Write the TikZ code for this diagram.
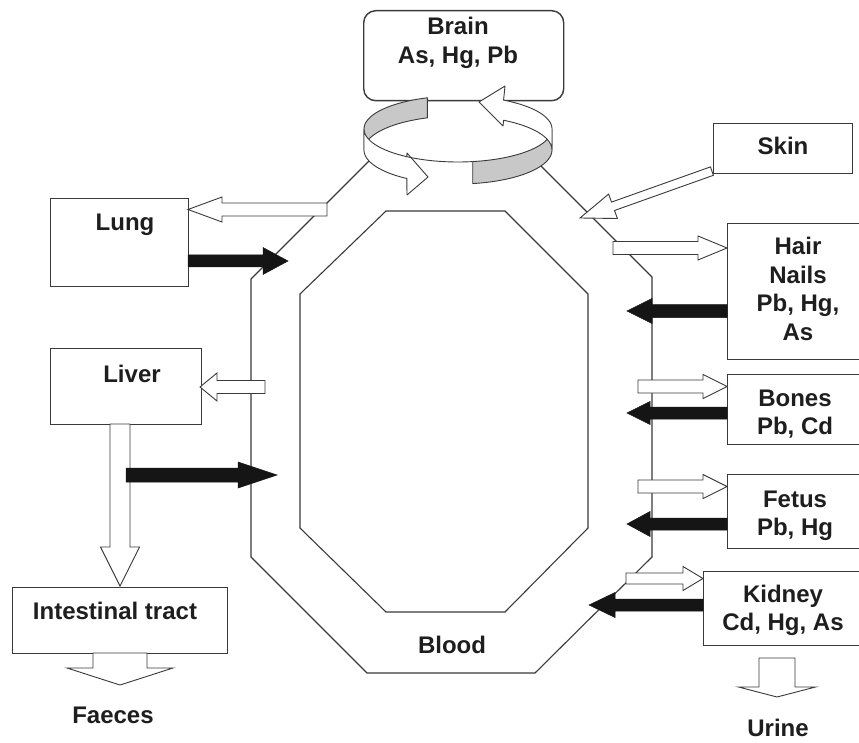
\documentclass[tikz,border=0pt]{standalone}
\usepackage{fontspec}
\setmainfont{Liberation Sans}
\definecolor{linec}{HTML}{3A3A3A}
\definecolor{blk}{HTML}{151515}
\definecolor{bandgray}{HTML}{C8C8C8}
\definecolor{txtc}{HTML}{1E1E1E}
\newcommand{\lblfont}{\bfseries\fontsize{24}{28.5}\selectfont}
% horizontal block arrow: style, tail x, head-base x, tip x, y, half shaft, half head
\newcommand{\hblk}[7]{\draw[#1] (#2,{#5-#6}) -- (#3,{#5-#6}) -- (#3,{#5-#7}) -- (#4,#5) -- (#3,{#5+#7}) -- (#3,{#5+#6}) -- (#2,{#5+#6}) -- cycle;}
% vertical block arrow: style, tail y, head-base y, tip y, x, half shaft, half head
\newcommand{\vblk}[7]{\draw[#1] ({#5-#6},#2) -- ({#5-#6},#3) -- ({#5-#7},#3) -- (#5,#4) -- ({#5+#7},#3) -- ({#5+#6},#3) -- ({#5+#6},#2) -- cycle;}
\newcommand{\mylines}[1]{\begin{tabular}[t]{@{}c@{}}#1\end{tabular}}
\begin{document}
\begin{tikzpicture}[x=1pt,y=-1pt,
  box/.style={draw=linec, line width=1.4pt, fill=white, inner sep=0pt},
  whitearr/.style={draw=linec, line width=0.9pt, fill=white, line join=miter},
  blackarr/.style={draw=blk, fill=blk, line width=0.5pt},
  band/.style={draw=linec, line width=0.9pt, line join=round},
  lbl/.style={font=\lblfont, text=txtc, inner sep=0pt, anchor=base},
  oct/.style={draw=linec, line width=1.1pt}]
\useasboundingbox (0,0) rectangle (859,743);
\clip (0,0) rectangle (859,743);
\fill[white] (0,0) rectangle (859,743);

% blood compartment (two octagons)
\draw[oct] (372,158) -- (251,279) -- (251,557) -- (367,673) -- (535,673) -- (652,557) -- (652,277) -- (533,158);
\draw[oct] (386,211) -- (505,211) -- (588,294) -- (588,528) -- (505,612) -- (386,612) -- (300,528) -- (300,294) -- cycle;

% brain box
\node[box, rounded corners=12pt, minimum width=200pt, minimum height=90pt, anchor=north west] (brainbox) at (363,10) {};

% circular arrows below the brain
\draw[band, fill=bandgray] plot[domain=109:180, samples=30, variable=\t] ({458+94*cos(\t)},{129-33*sin(\t)})
  -- plot[domain=180:109, samples=30, variable=\t] ({458+94*cos(\t)},{150-34*sin(\t)}) -- cycle;
\draw[band, fill=white] plot[domain=180:237, samples=30, variable=\t] ({458+94*cos(\t)},{129-33*sin(\t)})
  -- (407,153) -- (428,177) -- (407,195)
  -- plot[domain=237:180, samples=30, variable=\t] ({458+94*cos(\t)},{150-34*sin(\t)}) -- cycle;
\draw[band] plot[domain=237:279, samples=20, variable=\t] ({458+94*cos(\t)},{129-33*sin(\t)});
\draw[band, fill=bandgray] plot[domain=279:360, samples=30, variable=\t] ({458+94*cos(\t)},{129-33*sin(\t)})
  -- plot[domain=360:279, samples=30, variable=\t] ({458+94*cos(\t)},{150-34*sin(\t)}) -- cycle;
\draw[band, fill=white] plot[domain=0:61, samples=30, variable=\t] ({458+94*cos(\t)},{129-33*sin(\t)})
  -- (505,86) -- (479,102) -- (503,126)
  -- plot[domain=61:0, samples=30, variable=\t] ({458+94*cos(\t)},{150-34*sin(\t)}) -- cycle;

% organ boxes
\node[box, anchor=north west, minimum width=139pt, minimum height=50pt] (skin) at (713,123) {};
\node[box, anchor=north west, minimum width=138pt, minimum height=88pt] (lung) at (50,198) {};
\node[box, anchor=north west, minimum width=151pt, minimum height=76pt] (liver) at (50,348) {};
\node[box, anchor=north west, minimum width=215pt, minimum height=66pt] (intestine) at (12,587) {};
\node[box, anchor=north west, minimum width=150pt, minimum height=136pt] (hair) at (727,223) {};
\node[box, anchor=north west, minimum width=150pt, minimum height=70pt] (bones) at (727,374) {};
\node[box, anchor=north west, minimum width=150pt, minimum height=74pt] (fetus) at (727,474) {};
\node[box, anchor=north west, minimum width=170pt, minimum height=74pt] (kidney) at (703,571) {};

% block arrows, left side
\hblk{whitearr}{327}{222}{188}{209.5}{6.5}{12.5}
\hblk{blackarr}{188}{263}{288}{261}{6}{13.5}
\hblk{whitearr}{265}{217}{200}{387}{6.5}{14}
\vblk{whitearr}{424}{547}{586}{120}{10}{19.5}
\hblk{blackarr}{126}{238}{277}{475}{7}{13}
\vblk{whitearr}{653}{668}{685}{120}{27}{53}

% block arrows, right side
\draw[whitearr] (580,218) -- (617.4,218.5) -- (614.5,210.5) -- (713.4,175.3) -- (710.4,166.9) -- (611.5,202.1) -- (608.6,194.1) -- cycle;
\hblk{whitearr}{613}{698}{727}{248}{6.5}{12}
\hblk{blackarr}{727}{652}{627}{311}{6.5}{12.5}
\hblk{whitearr}{638}{703}{727}{386.5}{6.5}{12}
\hblk{blackarr}{727}{650}{627}{413}{6}{11.5}
\hblk{whitearr}{638}{703}{727}{486.5}{6.5}{12}
\hblk{blackarr}{727}{650}{627}{524}{6}{12.5}
\hblk{whitearr}{626}{683}{703}{578.5}{5.5}{12}
\hblk{blackarr}{703}{615}{589}{605}{6}{12.5}
\vblk{whitearr}{658}{687}{697}{777}{18}{38.5}

% labels
\node[lbl] (braintxt) at (458,35) {\mylines{Brain\\As, Hg, Pb}};
\node[lbl] (skintxt) at (783,155) {Skin};
\node[lbl] (lungtxt) at (125,231) {Lung};
\node[lbl] (livertxt) at (132,382) {Liver};
\node[lbl] (inttxt) at (115,619) {Intestinal tract};
\node[lbl] (faeces) at (113,723) {Faeces};
\node[lbl] (blood) at (452,653) {Blood};
\node[lbl] (hairtxt) at (798,255) {\mylines{Hair\\Nails\\Pb, Hg,\\As}};
\node[lbl] (bonestxt) at (795,406) {\mylines{Bones\\Pb, Cd}};
\node[lbl] (fetustxt) at (795,507) {\mylines{Fetus\\Pb, Hg}};
\node[lbl] (kidneytxt) at (783,602) {\mylines{Kidney\\Cd, Hg, As}};
\node[lbl] (urine) at (778,736) {Urine};
\end{tikzpicture}
\end{document}
